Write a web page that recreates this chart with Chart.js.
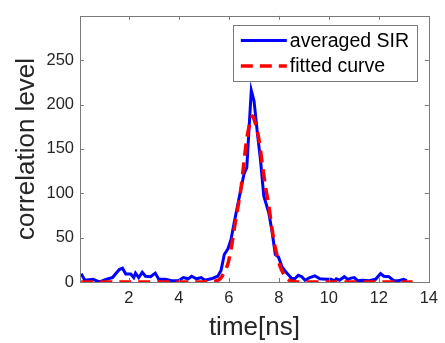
<!DOCTYPE html>
<html>
<head>
<meta charset="utf-8">
<style>
  html, body { margin: 0; padding: 0; background: #ffffff; }
  #wrap { width: 445px; height: 343px; }
</style>
<script src="https://cdn.jsdelivr.net/npm/chart.js@4"></script>
</head>
<body>
<div id="wrap"><canvas id="chart" width="445" height="343"></canvas></div>
<script>
// averaged SIR (blue)
const sirTime = [0.1, 0.24, 0.57, 0.83, 1.09, 1.35, 1.62, 1.75, 1.88, 2.08, 2.2, 2.27, 2.4, 2.54, 2.67, 2.87, 3.06, 3.2,
    3.46, 3.72, 3.98, 4.18, 4.38, 4.51, 4.71, 4.9, 5.04, 5.3, 5.56, 5.69, 5.82, 5.96, 6.09, 6.22, 6.35, 6.48, 6.61,
    6.72, 6.81, 6.9, 7.01, 7.14, 7.27, 7.4, 7.6, 7.73, 7.86, 7.99, 8.13, 8.32, 8.52, 8.65, 8.78, 8.92, 9.05, 9.24,
    9.44, 9.64, 9.9, 10.1, 10.23, 10.3, 10.43, 10.62, 10.76, 10.89, 11.02, 11.15, 11.35, 11.61, 11.87, 12.07, 12.2,
    12.4, 12.6, 12.79, 12.99, 13.12];
const sirValue = [9.4, 2, 3, 0, 3, 5, 14, 15.6, 9, 9, 5, 10, 5, 11, 6.5, 6, 10, 3,
    3, 1.5, 1.5, 5, 3.6, 6.5, 3.6, 5, 2, 3.6, 6.5, 13, 31, 37, 48, 67.5, 86, 104, 122,
    129, 173, 216, 204, 169, 137, 97, 78, 57, 31, 28, 17, 10, 4, 4, 7.6, 6, 2, 5,
    7, 3.6, 3, 3, 1, 3.6, 2, 6, 3, 4.4, 5, 1.5, 2, 1.5, 3, 9.4, 6.5,
    6, 1.5, 1.5, 3, 1.5];

// fitted curve (red dashed)
const fitTime = [0.1, 2, 4, 5.3, 5.63, 5.82, 5.96, 6.09, 6.22, 6.35, 6.48, 6.61, 6.74, 6.94, 7.07, 7.2, 7.34, 7.47,
    7.6, 7.73, 7.86, 8.06, 8.26, 8.45, 8.72, 10, 12, 13.35];
const fitValue = [0, 0, 0, 0.5, 3, 11, 20, 37, 60, 82, 104, 136, 165, 187, 178, 162, 133, 107,
    86, 60, 38.5, 17, 6, 1.5, 0, 0, 0, 0];

const xTicks = [2, 4, 6, 8, 10, 12, 14];
const yTicks = [0, 50, 100, 150, 200, 250];

const axisColor = '#262626';
const fontFamily = '"Liberation Sans", Arial, sans-serif';

function toPoints(xs, ys) {
    return xs.map((x, i) => ({ x: x, y: ys[i] }));
}

// MATLAB-like box with inward ticks on all four sides
const boxPlugin = {
    id: 'box',
    afterDatasetsDraw(chart) {
        const ctx = chart.ctx;
        const a = chart.chartArea;
        const xs = chart.scales.x;
        const ys = chart.scales.y;
        const len = 4;
        ctx.save();
        ctx.strokeStyle = '#7a7a7a';
        ctx.lineWidth = 1;
        ctx.beginPath();
        xTicks.forEach(v => {
            const px = Math.round(xs.getPixelForValue(v)) + 0.5;
            ctx.moveTo(px, a.bottom);
            ctx.lineTo(px, a.bottom - len);
            ctx.moveTo(px, a.top);
            ctx.lineTo(px, a.top + len);
        });
        yTicks.forEach(v => {
            const py = Math.round(ys.getPixelForValue(v)) + 0.5;
            ctx.moveTo(a.left, py);
            ctx.lineTo(a.left + len, py);
            ctx.moveTo(a.right, py);
            ctx.lineTo(a.right - len, py);
        });
        ctx.stroke();
        ctx.strokeRect(Math.round(a.left) + 0.5, Math.round(a.top) + 0.5,
            Math.round(a.right - a.left), Math.round(a.bottom - a.top));
        ctx.restore();
    }
};

// legend box drawn inside the plot, top right
const legendPlugin = {
    id: 'boxLegend',
    afterDraw(chart) {
        const ctx = chart.ctx;
        const a = chart.chartArea;
        const x0 = a.right - 196;
        const y0 = a.top + 9;
        const w = 184;
        const h = 56;
        ctx.save();
        ctx.fillStyle = '#ffffff';
        ctx.fillRect(x0, y0, w, h);
        ctx.strokeStyle = '#7a7a7a';
        ctx.lineWidth = 1;
        ctx.strokeRect(Math.round(x0) + 0.5, Math.round(y0) + 0.5, w, h);
        ctx.font = '19.5px ' + fontFamily;
        ctx.textBaseline = 'middle';
        ctx.fillStyle = '#000000';
        chart.data.datasets.forEach((ds, i) => {
            const ly = y0 + 15.5 + i * 25.6;
            ctx.beginPath();
            ctx.strokeStyle = ds.borderColor;
            ctx.lineWidth = ds.borderWidth;
            ctx.setLineDash(ds.borderDash || []);
            ctx.moveTo(x0 + 8, ly);
            ctx.lineTo(x0 + 54, ly);
            ctx.stroke();
            ctx.setLineDash([]);
            ctx.fillText(ds.label, x0 + 57, ly + 1);
        });
        ctx.restore();
    }
};

const chart = new Chart(document.getElementById('chart').getContext('2d'), {
    type: 'scatter',
    data: {
        datasets: [{
            label: 'averaged SIR',
            data: toPoints(sirTime, sirValue),
            showLine: true,
            borderColor: '#0000ff',
            backgroundColor: '#0000ff',
            borderWidth: 3,
            pointRadius: 0,
            tension: 0,
            order: 1
        }, {
            label: 'fitted curve',
            data: toPoints(fitTime, fitValue),
            showLine: true,
            borderColor: '#ff0000',
            backgroundColor: '#ff0000',
            borderWidth: 3.5,
            borderDash: [12, 7],
            pointRadius: 0,
            tension: 0.3,
            order: 0
        }]
    },
    options: {
        responsive: false,
        animation: false,
        layout: { padding: { top: 7, right: 10.5, left: 0, bottom: 0 } },
        plugins: {
            legend: { display: false },
            tooltip: { enabled: false }
        },
        scales: {
            x: {
                type: 'linear',
                min: 0.05,
                max: 14,
                afterBuildTicks: (axis) => { axis.ticks = xTicks.map(v => ({ value: v })); },
                afterFit: (axis) => { axis.height = 61; },
                grid: { display: false, drawTicks: false },
                border: { display: false },
                ticks: {
                    padding: 7,
                    color: axisColor,
                    font: { family: fontFamily, size: 16.5 },
                    maxRotation: 0,
                    autoSkip: false
                },
                title: {
                    display: true,
                    text: 'time[ns]',
                    color: axisColor,
                    font: { family: fontFamily, size: 26, lineHeight: 1.2 },
                    padding: { top: 0, bottom: 0 }
                }
            },
            y: {
                type: 'linear',
                min: 0,
                max: 300,
                afterBuildTicks: (axis) => { axis.ticks = yTicks.map(v => ({ value: v })); },
                afterFit: (axis) => { axis.width = 80; },
                grid: { display: false, drawTicks: false },
                border: { display: false },
                ticks: {
                    padding: 6,
                    color: axisColor,
                    font: { family: fontFamily, size: 16.5 },
                    autoSkip: false
                },
                title: {
                    display: true,
                    text: 'correlation level',
                    color: axisColor,
                    font: { family: fontFamily, size: 26, lineHeight: 1.2 },
                    padding: { top: 11, bottom: 0 }
                }
            }
        }
    },
    plugins: [boxPlugin, legendPlugin]
});
</script>
</body>
</html>
